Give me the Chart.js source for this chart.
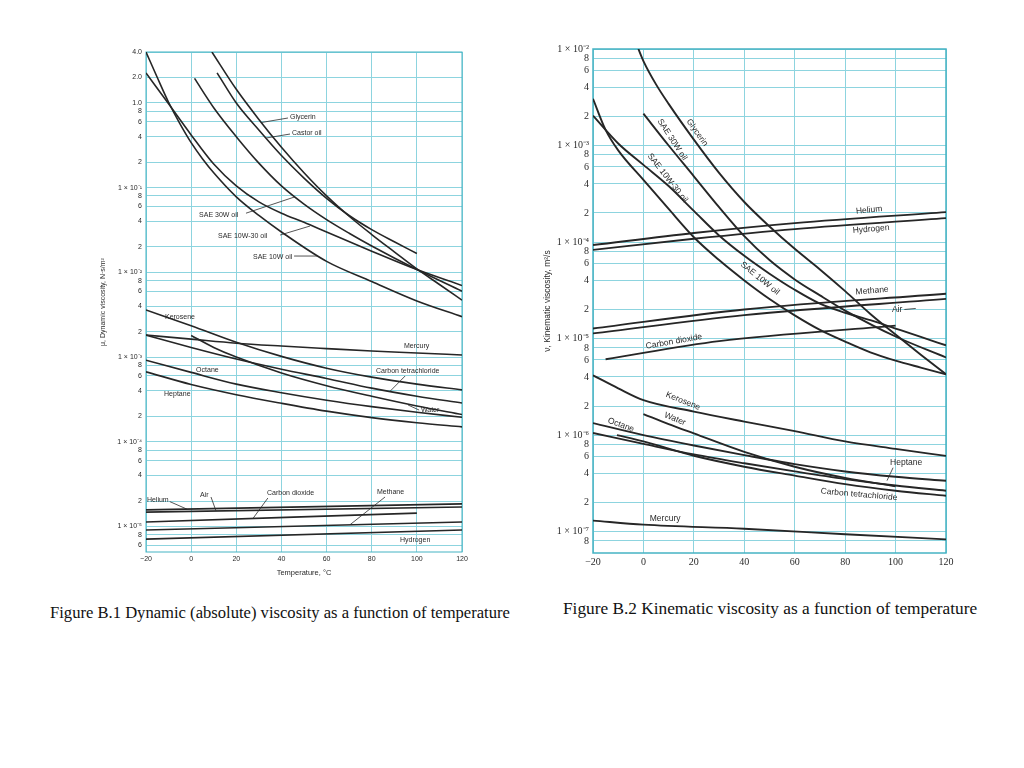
<!DOCTYPE html>
<html>
<head>
<meta charset="utf-8">
<title>Viscosity as a function of temperature</title>
<script src="https://cdn.jsdelivr.net/npm/chart.js@4.4.1/dist/chart.umd.min.js"></script>
<style>
  html, body { margin: 0; padding: 0; background: #fff; }
  body { width: 1024px; height: 768px; position: relative; overflow: hidden; }
  canvas { position: absolute; }
  #dynChart { left: 95px; top: 40px; }
  #kinChart { left: 540px; top: 37px; }
  .caption {
    position: absolute;
    font-family: "Liberation Serif", "Times New Roman", serif;
    color: #111;
    white-space: nowrap;
  }
</style>
</head>
<body>
<canvas id="dynChart" width="380" height="560"></canvas>
<canvas id="kinChart" width="420" height="540"></canvas>
<div class="caption" style="left:50px; top:603px; font-size:16.6px;">Figure B.1 Dynamic (absolute) viscosity as a function of temperature</div>
<div class="caption" style="left:563px; top:599px; font-size:17.3px;">Figure B.2 Kinematic viscosity as a function of temperature</div>

<script>
// Viscosity charts, [temperature °C, value]

const tempTicks = [-20, 0, 20, 40, 60, 80, 100, 120];
const tempLabels = ['\u221220', '0', '20', '40', '60', '80', '100', '120'];

// Figure B.1 - dynamic viscosity, N·s/m²
const dynTickValues = [4, 2, 1, 0.8, 0.6, 0.4, 0.2, 0.1, 0.08, 0.06, 0.04, 0.02, 0.01, 0.008, 0.006, 0.004, 0.002,
  0.001, 8e-4, 6e-4, 4e-4, 2e-4, 1e-4, 8e-5, 6e-5, 4e-5, 2e-5, 1e-5, 8e-6, 6e-6];
const dynTickLabels = ['4.0', '2.0', '1.0', '8', '6', '4', '2', '1 \u00d7 10\u207b\u00b9', '8', '6', '4', '2',
  '1 \u00d7 10\u207b\u00b2', '8', '6', '4', '2', '1 \u00d7 10\u207b\u00b3', '8', '6', '4', '2',
  '1 \u00d7 10\u207b\u2074', '8', '6', '4', '2', '1 \u00d7 10\u207b\u2075', '8', '6'];

const dynGlycerin = [[9.2, 4.0], [20, 1.45], [30, 0.64], [40, 0.30], [50, 0.15], [60, 0.08], [70, 0.046], [80, 0.028], [90, 0.0175], [100, 0.011], [110, 0.0072], [120, 0.0047]];
const dynCastorOil = [[11.5, 2.27], [20, 1.0], [30, 0.48], [40, 0.24], [50, 0.13], [60, 0.075], [70, 0.047], [80, 0.032], [90, 0.023], [100, 0.0167]];
const dynSae30W = [[1.5, 1.95], [10, 0.88], [20, 0.40], [30, 0.195], [40, 0.105], [50, 0.064], [60, 0.042], [70, 0.029], [80, 0.0205], [100, 0.0108], [120, 0.006]];
const dynSae10W30 = [[-20, 2.26], [-10, 0.98], [0, 0.42], [10, 0.19], [20, 0.105], [30, 0.068], [40, 0.050], [50, 0.039], [60, 0.030], [80, 0.0178], [100, 0.0108], [120, 0.0070]];
const dynSae10W = [[-20, 4.0], [-15, 2.0], [-10, 1.02], [-5, 0.57], [0, 0.34], [5, 0.22], [10, 0.15], [20, 0.078], [30, 0.047], [40, 0.030], [60, 0.0135], [80, 0.0078], [100, 0.0046], [120, 0.003]];
const dynKerosene = [[-20, 3.6e-3], [0, 2.35e-3], [20, 1.5e-3], [40, 1.02e-3], [60, 7.4e-4], [80, 5.8e-4], [100, 4.8e-4], [120, 4.1e-4]];
const dynMercury = [[-20, 1.82e-3], [0, 1.63e-3], [20, 1.46e-3], [40, 1.35e-3], [60, 1.26e-3], [80, 1.18e-3], [100, 1.12e-3], [120, 1.06e-3]];
const dynCarbonTet = [[-20, 1.82e-3], [0, 1.3e-3], [20, 9.5e-4], [40, 7.2e-4], [60, 5.6e-4], [80, 4.3e-4], [100, 3.45e-4], [120, 2.87e-4]];
const dynWater = [[0, 1.8e-3], [10, 1.3e-3], [20, 1.0e-3], [40, 6.5e-4], [60, 4.6e-4], [80, 3.45e-4], [100, 2.65e-4], [120, 2.1e-4]];
const dynOctane = [[-20, 9.2e-4], [0, 6.6e-4], [20, 4.8e-4], [40, 3.8e-4], [60, 3.1e-4], [80, 2.6e-4], [100, 2.23e-4], [120, 1.95e-4]];
const dynHeptane = [[-20, 6.7e-4], [0, 4.75e-4], [20, 3.6e-4], [40, 2.85e-4], [60, 2.3e-4], [80, 1.93e-4], [100, 1.68e-4], [120, 1.5e-4]];
const dynHelium = [[-20, 1.57e-5], [120, 1.85e-5]];
const dynAir = [[-20, 1.48e-5], [120, 1.70e-5]];
const dynCarbonDioxide = [[-20, 1.13e-5], [100, 1.44e-5]];
const dynMethane = [[-20, 9.1e-6], [120, 1.13e-5]];
const dynHydrogen = [[-20, 7.1e-6], [120, 9.1e-6]];

// Figure B.2 - kinematic viscosity, m²/s
const kinTickValues = [1e-2, 8e-3, 6e-3, 4e-3, 2e-3, 1e-3, 8e-4, 6e-4, 4e-4, 2e-4, 1e-4, 8e-5, 6e-5, 4e-5, 2e-5,
  1e-5, 8e-6, 6e-6, 4e-6, 2e-6, 1e-6, 8e-7, 6e-7, 4e-7, 2e-7, 1e-7, 8e-8];
const kinTickLabels = ['1 \u00d7 10\u207b\u00b2', '8', '6', '4', '2', '1 \u00d7 10\u207b\u00b3', '8', '6', '4', '2',
  '1 \u00d7 10\u207b\u2074', '8', '6', '4', '2', '1 \u00d7 10\u207b\u2075', '8', '6', '4', '2',
  '1 \u00d7 10\u207b\u2076', '8', '6', '4', '2', '1 \u00d7 10\u207b\u2077', '8'];

const kinGlycerin = [[-2, 1.0e-2], [0, 7.5e-3], [5, 4.3e-3], [10, 2.7e-3], [20, 1.15e-3], [30, 5.2e-4], [40, 2.6e-4], [50, 1.45e-4], [60, 8.5e-5], [70, 5.2e-5], [80, 3.1e-5], [90, 1.8e-5], [100, 1.1e-5], [110, 6.8e-6], [120, 4.26e-6]];
const kinSae30W = [[0, 2.14e-3], [10, 1.0e-3], [20, 4.8e-4], [30, 2.3e-4], [40, 1.15e-4], [50, 6.5e-5], [60, 4.1e-5], [70, 2.8e-5], [80, 1.95e-5], [100, 1.05e-5], [120, 6.37e-6]];
const kinSae10W30 = [[-20, 2.04e-3], [-10, 1.05e-3], [0, 6.3e-4], [10, 3.8e-4], [20, 2.1e-4], [30, 1.17e-4], [40, 7.2e-5], [50, 4.7e-5], [60, 3.2e-5], [70, 2.3e-5], [80, 1.85e-5], [90, 1.55e-5], [100, 1.27e-5], [110, 1.04e-5], [120, 8.5e-6]];
const kinSae10W = [[-20, 3.05e-3], [-15, 1.45e-3], [-10, 8.9e-4], [0, 4.4e-4], [10, 2.2e-4], [20, 1.12e-4], [30, 6.5e-5], [40, 4.0e-5], [50, 2.57e-5], [60, 1.74e-5], [70, 1.23e-5], [80, 9.3e-6], [90, 7.2e-6], [100, 5.9e-6], [110, 5.0e-6], [120, 4.26e-6]];
const kinHelium = [[-20, 9.3e-5], [20, 1.24e-4], [60, 1.57e-4], [120, 2.04e-4]];
const kinHydrogen = [[-20, 8.3e-5], [20, 1.08e-4], [60, 1.36e-4], [120, 1.77e-4]];
const kinMethane = [[-20, 1.27e-5], [40, 2.0e-5], [120, 2.91e-5]];
const kinAir = [[-20, 1.13e-5], [40, 1.75e-5], [120, 2.58e-5]];
const kinCarbonDioxide = [[-15, 6.1e-6], [30, 9.4e-6], [100, 1.36e-5]];
const kinKerosene = [[-20, 4.16e-6], [-10, 3.05e-6], [0, 2.3e-6], [20, 1.75e-6], [40, 1.38e-6], [60, 1.1e-6], [80, 8.6e-7], [100, 7.2e-7], [120, 6.08e-7]];
const kinWater = [[0, 1.65e-6], [10, 1.3e-6], [20, 1.04e-6], [40, 6.7e-7], [60, 4.7e-7], [80, 3.6e-7], [100, 2.95e-7]];
const kinOctane = [[-20, 1.33e-6], [0, 1.0e-6], [20, 7.8e-7], [40, 6.2e-7], [60, 5.0e-7], [80, 4.2e-7], [100, 3.7e-7], [120, 3.36e-7]];
const kinHeptane = [[-20, 1.05e-6], [0, 8.1e-7], [20, 6.3e-7], [40, 5.1e-7], [60, 4.2e-7], [80, 3.5e-7], [100, 3.0e-7], [120, 2.65e-7]];
const kinCarbonTet = [[-10.5, 1.0e-6], [0, 8.6e-7], [20, 6.1e-7], [40, 4.7e-7], [60, 3.8e-7], [80, 3.1e-7], [100, 2.65e-7], [120, 2.35e-7]];
const kinMercury = [[-20, 1.3e-7], [0, 1.18e-7], [40, 1.07e-7], [80, 9.4e-8], [120, 8.3e-8]];

// Curve labels, anchored in data coordinates (leader = [t1, v1, t2, v2])
const dynLabels = [
  { text: 'Glycerin', t: 43.8, v: 0.684, leader: [42.9, 0.665, 31.4, 0.59] },
  { text: 'Castor oil', t: 44.7, v: 0.443, leader: [43.8, 0.43, 33.2, 0.386] },
  { text: 'SAE 30W oil', t: 3.5, v: 0.0476, leader: [24.3, 0.050, 46, 0.078] },
  { text: 'SAE 10W-30 oil', t: 11.9, v: 0.0269, leader: [39.4, 0.0276, 52.7, 0.0353] },
  { text: 'SAE 10W oil', t: 27.4, v: 0.0152, leader: [45.6, 0.0156, 56.2, 0.0156] },
  { text: 'Kerosene', t: -11.6, v: 2.97e-3 },
  { text: 'Mercury', t: 94.3, v: 1.35e-3 },
  { text: 'Octane', t: 2.2, v: 7.05e-4 },
  { text: 'Carbon tetrachloride', t: 81.9, v: 6.85e-4, leader: [94.8, 5.98e-4, 88.1, 3.94e-4] },
  { text: 'Heptane', t: -12, v: 3.67e-4 },
  { text: 'Water', t: 101.8, v: 2.37e-4, leader: [101, 2.37e-4, 96.1, 2.72e-4] },
  { text: 'Helium', t: -19.6, v: 2.06e-5, leader: [-9.5, 1.97e-5, -1.8, 1.6e-5] },
  { text: 'Air', t: 3.9, v: 2.35e-5, leader: [8.8, 2.23e-5, 11, 1.53e-5] },
  { text: 'Carbon dioxide', t: 33.6, v: 2.48e-5, leader: [34, 2.17e-5, 27.4, 1.245e-5] },
  { text: 'Methane', t: 82.3, v: 2.55e-5, leader: [85.9, 2.23e-5, 70.4, 1.05e-5] },
  { text: 'Hydrogen', t: 92.5, v: 6.93e-6 }
];

const kinLabels = [
  { text: 'Glycerin', t: 21.3, v: 1.36e-3, angle: 55 },
  { text: 'SAE 30W oil', t: 11.4, v: 1.15e-3, angle: 57 },
  { text: 'SAE 10W-30 oil', t: 9.6, v: 4.6e-4, angle: 52 },
  { text: 'SAE 10W oil', t: 46.2, v: 4.2e-5, angle: 39 },
  { text: 'Helium', t: 89.5, v: 2.14e-4, angle: -6 },
  { text: 'Hydrogen', t: 90.3, v: 1.36e-4, angle: -5 },
  { text: 'Methane', t: 90.7, v: 3.13e-5, angle: -5 },
  { text: 'Air', t: 100.6, v: 2.0e-5, angle: 0, leader: [103.5, 2.0e-5, 108, 2.05e-5] },
  { text: 'Carbon dioxide', t: 12.1, v: 9.3e-6, angle: -10 },
  { text: 'Kerosene', t: 15.7, v: 2.25e-6, angle: 22 },
  { text: 'Water', t: 12.5, v: 1.47e-6, angle: 22 },
  { text: 'Octane', t: -8.9, v: 1.27e-6, angle: 20 },
  { text: 'Heptane', t: 104.2, v: 5.16e-7, angle: 0, leader: [99, 4.59e-7, 96.6, 3.37e-7] },
  { text: 'Carbon tetrachloride', t: 85.5, v: 2.42e-7, angle: 5 },
  { text: 'Mercury', t: 8.6, v: 1.37e-7, angle: 0 }
];

const COLORS = {
  curve: '#262626',
  grid: '#8dd4df',
  frame: '#45b3c3',
  text: '#2a2a2a'
};
const SANS = '"Liberation Sans", Arial, sans-serif';
const SERIF = '"Liberation Serif", "Times New Roman", serif';

// Frame around the plot area
const framePlugin = {
  id: 'frame',
  beforeDatasetsDraw(chart, args, opts) {
    const { ctx, chartArea: a } = chart;
    ctx.save();
    ctx.strokeStyle = COLORS.frame;
    ctx.lineWidth = opts.width || 1;
    ctx.strokeRect(a.left, a.top, a.right - a.left, a.bottom - a.top);
    ctx.restore();
  }
};

function labelPlugin(items, font, align) {
  return {
    id: 'curveLabels',
    afterDatasetsDraw(chart) {
      const { ctx, scales: { x, y } } = chart;
      ctx.save();
      ctx.fillStyle = COLORS.text;
      ctx.strokeStyle = COLORS.text;
      ctx.lineWidth = 0.8;
      ctx.font = font;
      for (const it of items) {
        if (it.leader) {
          const [t1, v1, t2, v2] = it.leader;
          ctx.beginPath();
          ctx.moveTo(x.getPixelForValue(t1), y.getPixelForValue(v1));
          ctx.lineTo(x.getPixelForValue(t2), y.getPixelForValue(v2));
          ctx.stroke();
        }
        ctx.save();
        ctx.translate(x.getPixelForValue(it.t), y.getPixelForValue(it.v));
        ctx.rotate((it.angle || 0) * Math.PI / 180);
        ctx.textAlign = align;
        ctx.textBaseline = 'middle';
        ctx.fillText(it.text, 0, 0);
        ctx.restore();
      }
      ctx.restore();
    }
  };
}

function toDatasets(series, width) {
  return series.map(([label, pts]) => ({
    label,
    data: pts.map(([t, v]) => ({ x: t, y: v })),
    borderColor: COLORS.curve,
    borderWidth: width,
    pointRadius: 0,
    pointHoverRadius: 0,
    fill: false,
    cubicInterpolationMode: 'monotone'
  }));
}

function renderViscosityChart(canvasId, cfg) {
  const canvas = document.getElementById(canvasId);
  return new Chart(canvas.getContext('2d'), {
    type: 'line',
    data: { datasets: toDatasets(cfg.series, cfg.lineWidth) },
    options: {
      responsive: false,
      animation: false,
      devicePixelRatio: 1,
      events: [],
      layout: { padding: cfg.padding },
      plugins: {
        legend: { display: false },
        tooltip: { enabled: false },
        frame: { width: cfg.frameWidth }
      },
      scales: {
        x: {
          type: 'linear',
          min: -20,
          max: 120,
          afterBuildTicks: s => { s.ticks = tempTicks.map(v => ({ value: v })); },
          afterFit: s => { s.height = cfg.xHeight; },
          ticks: {
            autoSkip: false,
            maxRotation: 0,
            padding: 3,
            color: COLORS.text,
            font: cfg.tickFont,
            callback: v => tempLabels[tempTicks.indexOf(v)]
          },
          grid: { color: COLORS.grid, drawTicks: false, lineWidth: 1 },
          border: { display: false },
          title: cfg.xTitle
        },
        y: {
          type: 'logarithmic',
          min: cfg.yMin,
          max: cfg.yMax,
          afterBuildTicks: s => { s.ticks = cfg.yTicks.map(v => ({ value: v })); },
          afterFit: s => { s.width = cfg.yWidth; },
          ticks: {
            autoSkip: false,
            padding: 4,
            color: COLORS.text,
            font: cfg.tickFont,
            callback: v => cfg.yLabels[cfg.yTicks.indexOf(v)]
          },
          grid: { color: COLORS.grid, drawTicks: false, lineWidth: 1 },
          border: { display: false },
          title: cfg.yTitle
        }
      }
    },
    plugins: [framePlugin, labelPlugin(cfg.labels, cfg.labelFont, cfg.labelAlign)]
  });
}

renderViscosityChart('dynChart', {
  series: [
    ['Glycerin', dynGlycerin], ['Castor oil', dynCastorOil], ['SAE 30W oil', dynSae30W],
    ['SAE 10W-30 oil', dynSae10W30], ['SAE 10W oil', dynSae10W], ['Kerosene', dynKerosene],
    ['Mercury', dynMercury], ['Carbon tetrachloride', dynCarbonTet], ['Water', dynWater],
    ['Octane', dynOctane], ['Heptane', dynHeptane], ['Helium', dynHelium], ['Air', dynAir],
    ['Carbon dioxide', dynCarbonDioxide], ['Methane', dynMethane], ['Hydrogen', dynHydrogen]
  ],
  lineWidth: 1.6,
  frameWidth: 1,
  padding: { left: 0, top: 12, right: 13, bottom: 0 },
  xHeight: 48,
  yWidth: 51,
  yMin: 5e-6,
  yMax: 4,
  yTicks: dynTickValues,
  yLabels: dynTickLabels,
  tickFont: { family: SANS, size: 7 },
  labelFont: '7px ' + SANS,
  labelAlign: 'left',
  labels: dynLabels,
  xTitle: { display: true, text: 'Temperature, \u00b0C', color: COLORS.text, font: { family: SANS, size: 7.5 }, padding: { top: 0, bottom: 23 } },
  yTitle: { display: true, text: '\u03bc, Dynamic viscosity, N\u00b7s/m\u00b2', color: COLORS.text, font: { family: SANS, size: 7 }, padding: { top: 4, bottom: 0 } }
});

renderViscosityChart('kinChart', {
  series: [
    ['Glycerin', kinGlycerin], ['SAE 30W oil', kinSae30W], ['SAE 10W-30 oil', kinSae10W30],
    ['SAE 10W oil', kinSae10W], ['Helium', kinHelium], ['Hydrogen', kinHydrogen],
    ['Methane', kinMethane], ['Air', kinAir], ['Carbon dioxide', kinCarbonDioxide],
    ['Kerosene', kinKerosene], ['Water', kinWater], ['Octane', kinOctane],
    ['Heptane', kinHeptane], ['Carbon tetrachloride', kinCarbonTet], ['Mercury', kinMercury]
  ],
  lineWidth: 1.9,
  frameWidth: 1.5,
  padding: { left: 0, top: 12, right: 14, bottom: 0 },
  xHeight: 24,
  yWidth: 53,
  yMin: 6.4e-8,
  yMax: 1e-2,
  yTicks: kinTickValues,
  yLabels: kinTickLabels,
  tickFont: { family: SERIF, size: 10 },
  labelFont: '8.5px ' + SANS,
  labelAlign: 'center',
  labels: kinLabels,
  xTitle: { display: false },
  yTitle: { display: true, text: '\u03bd, Kinematic viscosity, m\u00b2/s', color: COLORS.text, font: { family: SANS, size: 8.5 }, padding: { top: 3, bottom: 0 } }
});
</script>
</body>
</html>
